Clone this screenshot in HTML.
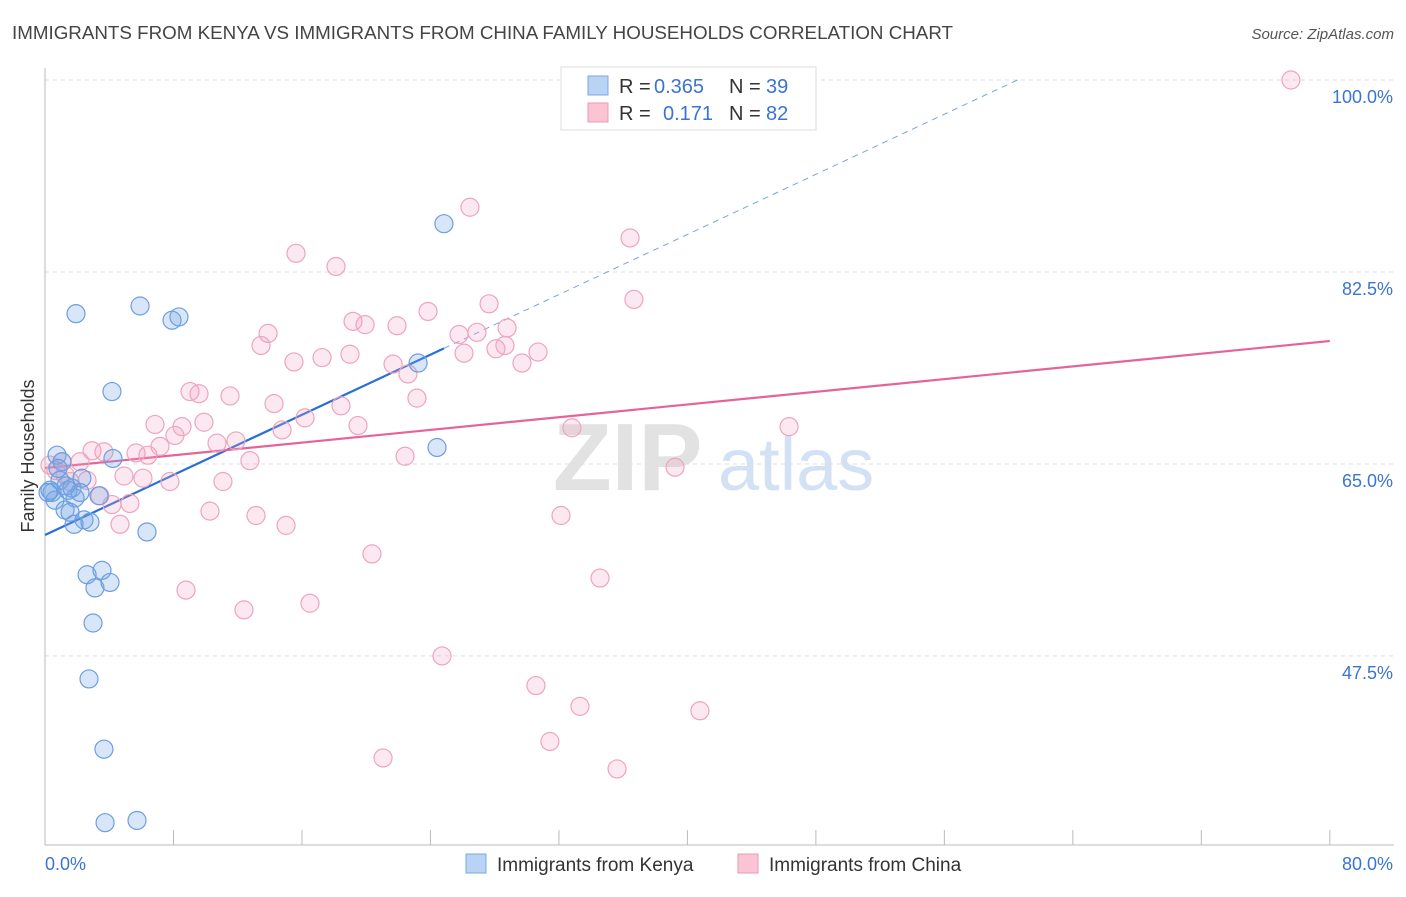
<!DOCTYPE html>
<html><head><meta charset="utf-8"><style>
body{margin:0;background:#fff;font-family:"Liberation Sans",sans-serif;}
svg text{font-family:"Liberation Sans",sans-serif;}
</style></head><body>
<svg id="chart" width="1406" height="892" xmlns="http://www.w3.org/2000/svg">
<text x="12" y="39" font-size="18" fill="#444" textLength="941" lengthAdjust="spacingAndGlyphs">IMMIGRANTS FROM KENYA VS IMMIGRANTS FROM CHINA FAMILY HOUSEHOLDS CORRELATION CHART</text>
<text x="1394" y="39" font-size="15" fill="#555" text-anchor="end" font-style="italic">Source: ZipAtlas.com</text>
<g>
<text x="553" y="490" font-size="96" fill="#e2e2e2" font-family="Liberation Serif" font-weight="bold">ZIP</text>
<text x="718" y="490" font-size="74" fill="#d2e2f4">atlas</text>
</g>
<g id="grid"></g>
<g id="axes"></g>
<g id="lines"></g>
<g id="pts"></g>
<text transform="translate(34,456) rotate(-90)" font-size="18" fill="#333" text-anchor="middle">Family Households</text>
<g>
<rect x="561" y="67" width="255" height="63" fill="#fff" stroke="#ddd"/>
<rect x="588" y="76" width="20" height="19" fill="#b8d3f4" stroke="#7aa8e4"/>
<rect x="588" y="103" width="20" height="19" fill="#fac4d4" stroke="#ee9ab6"/>
<text x="619" y="93" font-size="20" fill="#333">R =</text>
<text x="654" y="93" font-size="20" fill="#3a74d2">0.365</text>
<text x="729" y="93" font-size="20" fill="#333">N =</text>
<text x="766" y="93" font-size="20" fill="#3a74d2">39</text>
<text x="619" y="120" font-size="20" fill="#333">R =</text>
<text x="663" y="120" font-size="20" fill="#3a74d2">0.171</text>
<text x="729" y="120" font-size="20" fill="#333">N =</text>
<text x="766" y="120" font-size="20" fill="#3a74d2">82</text>
</g>
<g>
<rect x="466" y="854" width="20" height="19" fill="#b8d3f4" stroke="#7aa8e4"/>
<text x="497" y="871" font-size="19" fill="#333">Immigrants from Kenya</text>
<rect x="738" y="854" width="20" height="19" fill="#fac4d4" stroke="#ee9ab6"/>
<text x="769" y="871" font-size="19" fill="#333">Immigrants from China</text>
</g>
</svg>
<script>
const kenyaX=[0.75,0.44,0.93,0.62,1.43,1.68,1.87,1.25,1.56,1.81,2.43,2.80,2.30,3.36,4.23,6.35,2.62,3.11,3.55,4.05,2.99,2.74,3.67,3.74,5.73,1.93,5.92,7.91,8.34,4.17,24.84,23.23,24.41,0.31,1.06,0.81,1.31,2.18,0.19];
const kenyaY=[65.8,62.4,63.5,61.7,62.6,62.8,61.9,60.8,60.6,59.5,59.9,59.7,63.7,62.1,65.5,58.8,54.9,53.7,55.3,54.2,50.5,45.4,39.0,32.3,32.5,78.7,79.4,78.1,78.4,71.6,86.9,74.2,66.5,62.6,65.2,64.6,63.0,62.4,62.4];
const chinaX=[77.58,26.46,36.43,15.63,18.12,36.67,27.65,23.85,19.18,19.93,21.92,13.89,13.45,26.90,25.78,28.77,28.64,28.08,30.70,26.09,18.99,17.25,15.50,21.67,29.70,22.60,9.03,9.59,11.52,14.26,23.16,18.43,16.19,9.90,6.85,8.53,8.09,19.49,32.81,14.76,46.33,10.71,11.89,7.16,5.67,6.41,3.67,2.93,2.18,1.06,0.31,12.76,22.42,39.23,4.92,6.10,7.78,11.08,2.62,1.56,3.42,4.17,5.29,10.27,13.14,32.13,4.67,15.01,20.36,34.56,8.78,16.50,12.39,24.72,30.57,33.31,40.78,31.44,21.05,35.62,0.68,1.25];
const chinaY=[100.0,88.4,85.6,84.2,83.0,80.0,79.6,78.9,78.0,77.7,77.6,76.9,75.8,77.0,76.8,77.4,75.8,75.5,75.2,75.1,75.0,74.7,74.3,74.1,74.2,73.2,71.6,71.4,71.2,70.5,71.0,70.3,69.2,68.8,68.6,68.4,67.6,68.5,68.3,68.1,68.4,66.9,67.1,66.6,66.0,65.8,66.1,66.2,65.2,65.2,64.9,65.3,65.7,64.7,63.9,63.7,63.4,63.4,63.5,63.4,62.1,61.3,61.4,60.7,60.3,60.3,59.5,59.4,56.8,54.6,53.5,52.3,51.7,47.5,44.8,42.9,42.5,39.7,38.2,37.2,64.4,64.0];
const yTicks=[100,82.5,65,47.5];
const yTickLabels=["100.0%","82.5%","65.0%","47.5%"];
const xTickLabels=["0.0%","80.0%"];
const kenyaFit=[58.52,0.685];
const chinaFit=[64.63,0.1447];
const NS="http://www.w3.org/2000/svg";
const sx=v=>45+v*16.06, sy=v=>80+(100-v)*10.97;
function mk(t,a,p){const e=document.createElementNS(NS,t);for(const k in a)e.setAttribute(k,a[k]);p.appendChild(e);return e;}
const grid=document.getElementById('grid'),axes=document.getElementById('axes'),lines=document.getElementById('lines'),pts=document.getElementById('pts');
yTicks.forEach((t,i)=>{
 const l=mk('line',{x1:45,x2:1394,y1:sy(t),y2:sy(t),stroke:'#ddd','stroke-dasharray':'4,4'},grid);
 
 
 const tx=mk('text',{x:1393,y:sy(t)+23,'font-size':18,fill:'#3a74d2','text-anchor':'end'},axes);
 tx.textContent=yTickLabels[i];
 
 
});
mk('line',{x1:45,x2:45,y1:68,y2:845,stroke:'#bbb'},axes);
mk('line',{x1:45,x2:1394,y1:845,y2:845,stroke:'#bbb'},axes);
for(let i=0;i<=10;i++){const l=mk('line',{x1:sx(i*8),x2:sx(i*8),y1:830,y2:845,stroke:'#bbb'},axes);}
[[0,'start',45],[80,'end',1393]].forEach((d,i)=>{const t=mk('text',{x:d[2],y:870,'font-size':18,fill:'#3a74d2','text-anchor':d[1]},axes);t.textContent=xTickLabels[i];});
function draw(X,Y,fill,stroke,name){X.forEach((x,i)=>{const c=mk('circle',{cx:sx(x),cy:sy(Y[i]),r:9,fill:fill,stroke:stroke,'stroke-width':1.2},pts);});}
draw(chinaX,chinaY,'rgba(245,165,195,0.25)','#eea4bd','china-point');
draw(kenyaX,kenyaY,'rgba(120,165,230,0.28)','#6c9fe0','kenya-point');
const kx=Math.max(...kenyaX);
let l1=mk('line',{x1:sx(0),y1:sy(kenyaFit[0]),x2:sx(kx),y2:sy(kenyaFit[0]+kenyaFit[1]*kx),stroke:'#2a6fd6','stroke-width':2.2},lines);

const xe=(100-kenyaFit[0])/kenyaFit[1];
let l2=mk('line',{x1:sx(kx),y1:sy(kenyaFit[0]+kenyaFit[1]*kx),x2:sx(xe),y2:sy(100),stroke:'#7aa3dd','stroke-width':1,'stroke-dasharray':'6,5'},lines);

let l3=mk('line',{x1:sx(0),y1:sy(chinaFit[0]),x2:sx(80),y2:sy(chinaFit[0]+chinaFit[1]*80),stroke:'#e4649a','stroke-width':2.2},lines);

</script>
</body></html>
